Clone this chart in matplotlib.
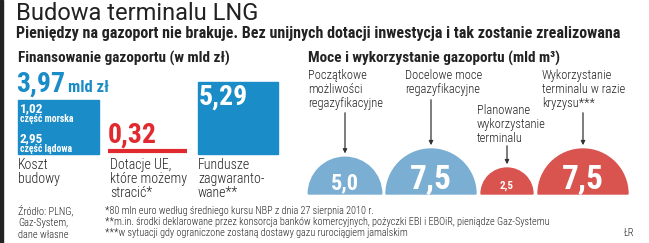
import matplotlib.pyplot as plt
from matplotlib.patches import Wedge, Rectangle
import numpy as np

plt.rcParams['font.family'] = ['Roboto Condensed', 'Barlow Semi Condensed', 'DejaVu Sans']

# data
fin_total = '3,97'
fin_parts = ['1,02', '2,95']
fin_part_names = ['część morska', 'część lądowa']
fin_values = [3.97, 0.32, 5.29]
fin_labels = ['Koszt\nbudowy', 'Dotacje UE,\nktóre możemy\nstracić*', 'Fundusze\nzagwaranto-\nwane**']

gas_values = [5.0, 7.5, 2.5, 7.5]
gas_text = ['5,0', '7,5', '2,5', '7,5']
gas_labels = ['Początkowe\nmożliwości\nregazyfikacyjne', 'Docelowe moce\nregazyfikacyjne',
              'Planowane\nwykorzystanie\nterminalu', 'Wykorzystanie\nterminalu w razie\nkryzysu***']
gas_colors = ['#7aaed2', '#7aaed2', '#d9534f', '#d9534f']

blue = '#1a8cc8'
red = '#e02a2f'
dark = '#222222'

fig = plt.figure(figsize=(6.49, 2.43), dpi=100)
ax = fig.add_axes([0, 0, 1, 1])
ax.set_xlim(0, 649)
ax.set_ylim(243, 0)
ax.axis('off')

ax.add_patch(Rectangle((0, 0), 3, 243, color=dark))

ax.text(16, 20, 'Budowa terminalu LNG', fontsize=17, color=dark, va='baseline',
        family=['Roboto', 'DejaVu Sans'])
ax.text(16, 38, 'Pieniędzy na gazoport nie brakuje. Bez unijnych dotacji inwestycja i tak zostanie zrealizowana',
        fontsize=11.5, fontweight='bold', color=dark, va='baseline')
ax.text(18, 63, 'Finansowanie gazoportu (w mld zł)', fontsize=11, fontweight='bold', color=dark, va='baseline')
ax.text(308, 63, 'Moce i wykorzystanie gazoportu (mld m³)', fontsize=11, fontweight='bold',
        color=dark, va='baseline')

# left: financing
ax.text(16, 92, fin_total, fontsize=20, fontweight='bold', color=blue, va='baseline')
ax.text(68, 92, 'mld zł', fontsize=12, fontweight='bold', color=blue, va='baseline')
ax.add_patch(Rectangle((18, 100), 81, 54, color=blue))
for i, (v, n) in enumerate(zip(fin_parts, fin_part_names)):
    y0 = 112 + i * 30
    ax.text(20, y0, v, fontsize=9.5, fontweight='bold', color='white', va='baseline')
    ax.text(20, y0 + 9.5, n, fontsize=7, fontweight='bold', color='white', va='baseline')

ax.text(108, 143, '0,32', fontsize=20, fontweight='bold', color=red, va='baseline')
ax.plot([108, 187], [151, 151], color=red, lw=3, solid_capstyle='butt')

ax.add_patch(Rectangle((198, 82), 80, 72, color=blue))
ax.text(199, 105, '5,29', fontsize=20, fontweight='bold', color='white', va='baseline')

for x, lab in zip([18, 110, 198], fin_labels):
    ax.text(x, 158, lab, fontsize=10, fontweight='light', color=dark, va='top', linespacing=1.0)

# right: semicircles, area proportional to value
base = 194
rmax = 45
centers = [345, 431, 507, 583]
label_pos = [(308, 69), (405, 69), (477, 104), (542, 69)]
arrow_start = [110, 97, 143, 110]
for v, t, c, cx, lab, (lx, ly), ys in zip(gas_values, gas_text, gas_colors, centers,
                                             gas_labels, label_pos, arrow_start):
    r = rmax * np.sqrt(v / max(gas_values))
    ax.add_patch(Wedge((cx, base), r, 180, 360, color=c))
    ax.text(cx, base - 5, t, fontsize=24 * v / max(gas_values), fontweight='bold', color='white',
            ha='center', va='baseline')
    ax.text(lx, ly, lab, fontsize=9, fontweight='light', color=dark, va='top', linespacing=1.1)
    ax.annotate('', xy=(cx, base - r - 1), xytext=(cx, ys),
                arrowprops=dict(arrowstyle='-|>', color='#333333', lw=0.9, mutation_scale=6))

# footer
ax.text(18, 205, 'Źródło: PLNG,\nGaz-System,\ndane własne', fontsize=7.5, fontweight='light', color=dark,
        va='top', linespacing=1.2)
ax.text(105, 206, '*80 mln euro według średniego kursu NBP z dnia 27 sierpnia 2010 r.\n'
        '**m.in. środki deklarowane przez konsorcja banków komercyjnych, pożyczki EBI i EBOiR, pieniądze Gaz-Systemu\n'
        '***w sytuacji gdy ograniczone zostaną dostawy gazu rurociągiem jamalskim',
        fontsize=7.4, fontweight='light', color=dark, va='top', linespacing=1.15)
ax.text(634, 233, 'ŁR', fontsize=7.5, fontweight='light', color=dark, ha='right', va='center')

fig.savefig('out.png', dpi=100)
